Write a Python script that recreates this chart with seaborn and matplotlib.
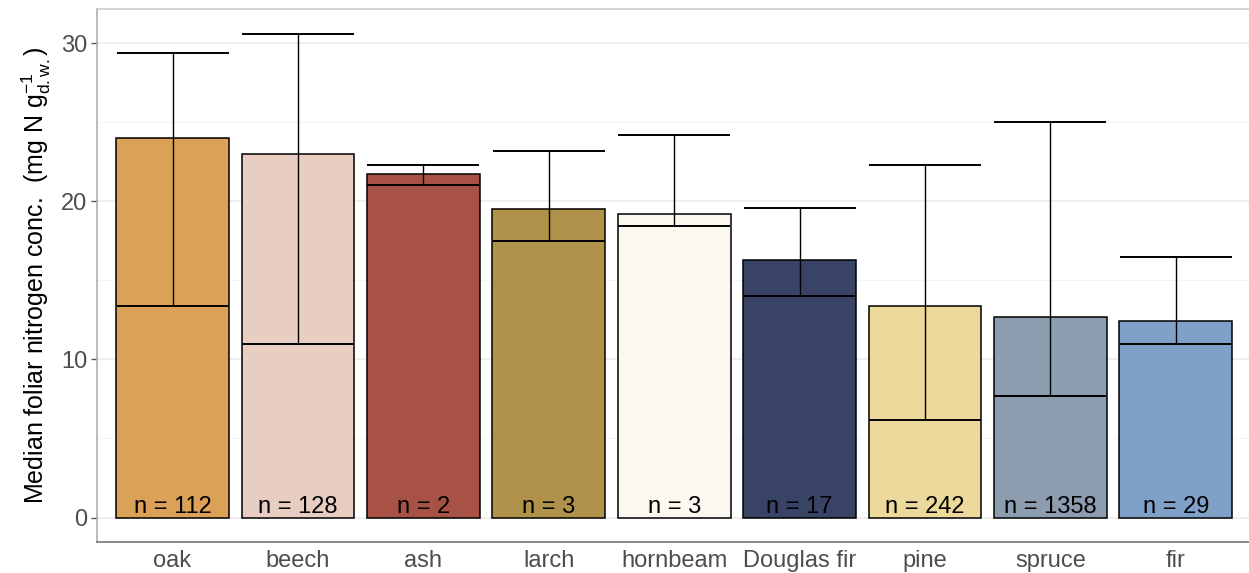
import matplotlib
matplotlib.use("Agg")
import matplotlib.pyplot as plt
import seaborn as sns
import pandas as pd
import numpy as np

# Tree species and foliar nitrogen statistics (mg N per g dry weight)
species = ["oak", "beech", "ash", "larch", "hornbeam", "Douglas fir", "pine", "spruce", "fir"]
median_n = [24.0, 23.0, 21.7, 19.5, 19.2, 16.3, 13.4, 12.7, 12.4]
lower_n = [13.4, 11.0, 21.05, 17.5, 18.45, 14.0, 6.15, 7.7, 11.0]
upper_n = [29.4, 30.6, 22.3, 23.2, 24.2, 19.6, 22.3, 25.0, 16.5]
sample_n = [112, 128, 2, 3, 3, 17, 242, 1358, 29]
colors = ["#DBA257", "#E8CDC2", "#A85245", "#B0924A", "#FBF8F0",
          "#394366", "#EDD99B", "#8C9DAF", "#7FA0C7"]

df = pd.DataFrame({"species": species, "median": median_n,
                   "lower": lower_n, "upper": upper_n, "n": sample_n})

sns.set_theme(style="white")
plt.rcParams["font.family"] = ["Liberation Sans", "DejaVu Sans"]
plt.rcParams["mathtext.fontset"] = "custom"
plt.rcParams["mathtext.rm"] = "Liberation Sans"
plt.rcParams["mathtext.it"] = "Liberation Sans:italic"
plt.rcParams["mathtext.bf"] = "Liberation Sans:bold"

fig = plt.figure(figsize=(12.49, 5.73), dpi=100)
ax = fig.add_axes([0.0779, 0.0546, 0.9237, 0.9297])

# grid in the style of theme_bw
ax.set_axisbelow(True)
ax.yaxis.set_minor_locator(matplotlib.ticker.MultipleLocator(5))
ax.grid(which="major", axis="both", color="#EBEBEB", linewidth=1.1)
ax.grid(which="minor", axis="y", color="#F2F2F2", linewidth=0.6)

sns.barplot(data=df, x="species", y="median", hue="species", palette=colors,
            order=species, width=0.9, edgecolor="black", linewidth=1.1,
            saturation=1, dodge=False, legend=False, ax=ax)

x = np.arange(len(species))
med = np.array(median_n)
yerr = np.vstack([med - np.array(lower_n), np.array(upper_n) - med])
half_bar_pt = 0.45 * (ax.get_position().width * fig.get_figwidth() * 72) / 9.2
ax.errorbar(x, med, yerr=yerr, fmt="none", ecolor="black", elinewidth=1.0,
            capsize=half_bar_pt, capthick=1.4, zorder=5)

for xi, n in zip(x, sample_n):
    ax.text(xi, 0.0, f"n = {n}", ha="center", va="bottom",
            fontsize=17, color="black", zorder=6)

ax.set_xlim(-0.6, 8.6)
ax.set_ylim(-1.53, 32.16)
ax.set_yticks([0, 10, 20, 30])
ax.set_xlabel("")
ax.set_ylabel(r"Median foliar nitrogen conc.  (mg N g$_{\mathregular{d.w.}}^{\mathregular{-1}}$)",
              fontsize=18, color="black", labelpad=6)
ax.tick_params(axis="y", which="major", length=4, width=1, color="#555555",
               labelsize=17, labelcolor="#4D4D4D", left=True, pad=3)
ax.tick_params(axis="y", which="minor", length=0)
ax.tick_params(axis="x", length=0, labelsize=17, labelcolor="#4D4D4D", pad=6)

for side, col in [("top", "#C8C8C8"), ("left", "#A8A8A8"),
                  ("bottom", "#6A6A6A")]:
    ax.spines[side].set_visible(True)
    ax.spines[side].set_color(col)
    ax.spines[side].set_linewidth(1.1)
ax.spines["right"].set_visible(False)

fig.savefig("out.png", dpi=100)
